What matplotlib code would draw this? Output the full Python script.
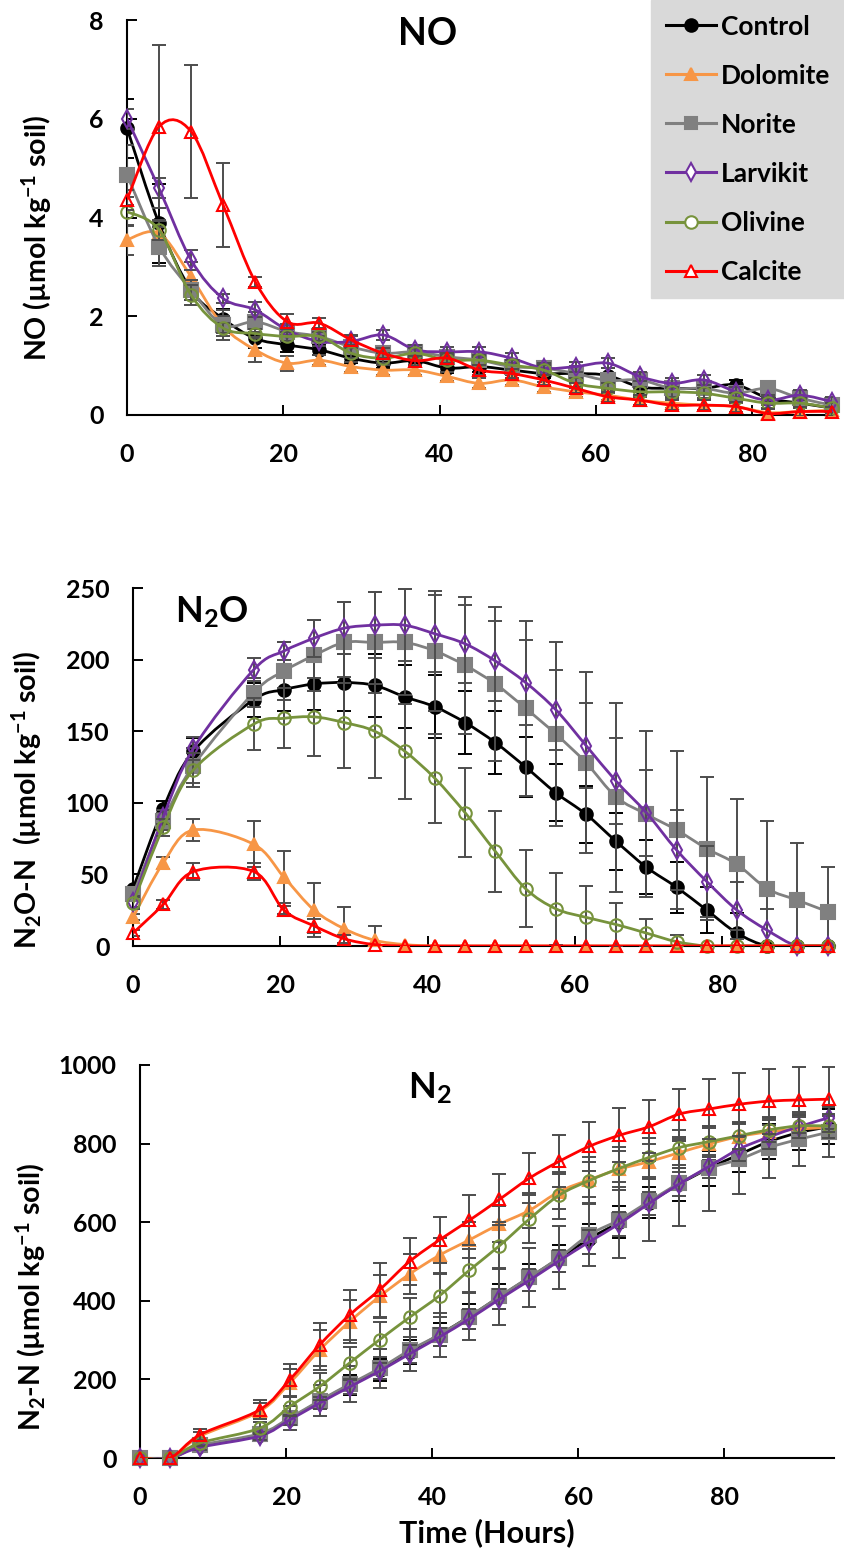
import numpy as np
import matplotlib
matplotlib.use("Agg")
import matplotlib.pyplot as plt
from matplotlib.path import Path
from matplotlib.patches import PathPatch
from matplotlib.lines import Line2D

plt.rcParams['font.family'] = ['Lato', 'DejaVu Sans']
plt.rcParams['font.weight'] = 'bold'
plt.rcParams['mathtext.fontset'] = 'custom'
plt.rcParams['mathtext.rm'] = 'Lato:bold'
plt.rcParams['mathtext.it'] = 'Lato:bold'
plt.rcParams['mathtext.bf'] = 'Lato:bold'

SERIES = ["Control", "Dolomite", "Norite", "Larvikit", "Olivine", "Calcite"]
COLORS = ["#000000", "#f79646", "#808080", "#7030a0", "#77933c", "#ff0000"]
MARKERS = ["o", "^", "s", "d", "o", "^"]
FILLED = [True, True, True, False, False, False]

# sampling times (hours); N2O and N2 have no 12 h sample
TIME_NO = [0, 4.1, 8.2, 12.3, 16.4, 20.5, 24.6, 28.7, 32.8, 36.9, 41.0, 45.1,
           49.2, 53.3, 57.4, 61.5, 65.6, 69.7, 73.8, 77.9, 82.0, 86.1, 90.2]
TIME_N = [0, 4.1, 8.2, 16.4, 20.5, 24.6, 28.7, 32.8, 36.9, 41.0, 45.1, 49.2,
          53.3, 57.4, 61.5, 65.6, 69.7, 73.8, 77.9, 82.0, 86.1, 90.2, 94.3]

# ---- NO (umol kg-1 soil)
NO_CONTROL = [5.81, 3.88, 2.53, 1.95, 1.55, 1.42, 1.32, 1.15, 1.05, 1.10, 0.95, 0.98,
              0.91, 0.84, 0.84, 0.80, 0.57, 0.54, 0.54, 0.61, 0.34, 0.24, 0.14]
NO_DOLOMITE = [3.55, 3.68, 2.80, 1.80, 1.32, 1.05, 1.11, 0.98, 0.91, 0.91, 0.78, 0.64,
               0.71, 0.57, 0.47, 0.40, 0.30, 0.24, 0.20, 0.17, 0.05, 0.07, 0.10]
NO_NORITE = [4.86, 3.41, 2.53, 1.82, 1.89, 1.69, 1.59, 1.38, 1.25, 1.28, 1.18, 1.11,
             0.98, 0.95, 0.84, 0.70, 0.71, 0.54, 0.54, 0.44, 0.54, 0.34, 0.20]
NO_LARVIKIT = [6.00, 4.59, 3.14, 2.36, 2.13, 1.72, 1.49, 1.49, 1.62, 1.32, 1.28, 1.28,
               1.15, 0.95, 0.98, 1.05, 0.78, 0.64, 0.71, 0.47, 0.30, 0.40, 0.27]
NO_OLIVINE = [4.12, 3.75, 2.43, 1.76, 1.65, 1.59, 1.59, 1.25, 1.15, 1.25, 1.11, 1.11,
              1.01, 0.91, 0.64, 0.54, 0.47, 0.47, 0.44, 0.34, 0.24, 0.24, 0.14]
NO_CALCITE = [4.36, 5.84, 5.74, 4.25, 2.70, 1.89, 1.86, 1.52, 1.25, 1.10, 1.15, 0.91,
              0.84, 0.71, 0.54, 0.37, 0.30, 0.20, 0.20, 0.17, 0.03, 0.07, 0.07]

NO_ERR_CONTROL = [0.6, 0.8, 0.2, 0.2, 0.2, 0.15, 0.1, 0.1, 0.1, 0.1, 0.1, 0.1,
                  0.1, 0.1, 0.1, 0.15, 0.1, 0.1, 0.1, 0.1, 0.1, 0.1, 0.1]
NO_ERR_DOLOMITE = [0.3, 0.25, 0.3, 0.2, 0.25, 0.15, 0.1, 0.1, 0.1, 0.1, 0.1, 0.1,
                   0.1, 0.1, 0.1, 0.1, 0.1, 0.1, 0.1, 0.1, 0.1, 0.1, 0.1]
NO_ERR_NORITE = [0.6, 0.4, 0.2, 0.3, 0.2, 0.15, 0.1, 0.1, 0.1, 0.1, 0.1, 0.1,
                 0.1, 0.1, 0.15, 0.15, 0.1, 0.1, 0.1, 0.1, 0.15, 0.1, 0.1]
NO_ERR_LARVIKIT = [0.2, 0.2, 0.2, 0.1, 0.15, 0.1, 0.1, 0.1, 0.1, 0.1, 0.1, 0.1,
                   0.1, 0.1, 0.1, 0.1, 0.1, 0.1, 0.1, 0.1, 0.1, 0.1, 0.1]
NO_ERR_OLIVINE = [0.3, 0.2, 0.2, 0.1, 0.1, 0.1, 0.1, 0.1, 0.1, 0.1, 0.1, 0.1,
                  0.1, 0.1, 0.1, 0.1, 0.1, 0.1, 0.1, 0.1, 0.1, 0.1, 0.1]
NO_ERR_CALCITE = [0.2, 1.65, 1.35, 0.85, 0.1, 0.15, 0.1, 0.1, 0.1, 0.1, 0.1, 0.1,
                  0.1, 0.1, 0.1, 0.1, 0.1, 0.1, 0.1, 0.1, 0.1, 0.1, 0.1]

# ---- N2O-N (umol kg-1 soil)
N2O_CONTROL = [40, 96, 136, 172, 179, 183, 184, 182, 174, 167, 156, 142,
               125, 107, 92, 73, 55, 41, 25, 9, 0, 0, 0]
N2O_DOLOMITE = [20, 58, 81, 71, 48, 25, 12, 4, 1, 0, 0, 0,
                0, 0, 0, 0, 0, 0, 0, 0, 0, 0, 0]
N2O_NORITE = [36, 87, 126, 177, 192, 203, 212, 212, 212, 206, 196, 183,
              166, 148, 128, 104, 92, 81, 68, 57, 40, 32, 24]
N2O_LARVIKIT = [31, 90, 138, 193, 206, 215, 222, 224, 224, 218, 211, 199,
                184, 165, 140, 115, 93, 67, 45, 25, 11, 0, 0]
N2O_OLIVINE = [30, 83, 123, 155, 159, 160, 156, 150, 136, 117, 93, 66,
               40, 26, 20, 15, 9, 3, 0, 0, 0, 0, 0]
N2O_CALCITE = [9, 29, 52, 52, 25, 14, 5, 1, 0, 0, 0, 0,
               0, 0, 0, 0, 0, 0, 0, 0, 0, 0, 0]

N2O_ERR_CONTROL = [4, 5, 9, 12, 15, 18, 20, 22, 22, 22, 22, 22,
                   21, 20, 20, 20, 19, 18, 16, 14, 0, 0, 0]
N2O_ERR_DOLOMITE = [2, 4, 8, 16, 18, 19, 15, 10, 0, 0, 0, 0,
                    0, 0, 0, 0, 0, 0, 0, 0, 0, 0, 0]
N2O_ERR_NORITE = [4, 6, 12, 10, 20, 25, 28, 35, 37, 42, 48, 54,
                  61, 64, 63, 66, 58, 55, 50, 46, 47, 40, 31]
N2O_ERR_LARVIKIT = [4, 5, 8, 8, 6, 13, 18, 23, 25, 27, 27, 28,
                    30, 28, 30, 30, 30, 28, 25, 20, 15, 0, 0]
N2O_ERR_OLIVINE = [4, 6, 12, 18, 21, 27, 32, 33, 33, 31, 31, 28,
                   27, 25, 22, 15, 10, 5, 0, 0, 0, 0, 0]
N2O_ERR_CALCITE = [2, 3, 6, 6, 3, 5, 3, 0, 0, 0, 0, 0,
                   0, 0, 0, 0, 0, 0, 0, 0, 0, 0, 0]

# ---- N2-N (umol kg-1 soil)
N2_CONTROL = [0, 0, 30, 59, 100, 144, 186, 225, 270, 314, 360, 410,
              459, 508, 558, 600, 650, 697, 737, 772, 805, 828, 843]
N2_DOLOMITE = [0, 0, 55, 119, 191, 275, 347, 411, 468, 516, 555, 595,
               630, 678, 708, 735, 754, 777, 799, 818, 830, 837, 841]
N2_NORITE = [0, 0, 32, 62, 102, 146, 188, 228, 274, 314, 360, 411,
             460, 510, 568, 606, 653, 699, 737, 760, 790, 811, 829]
N2_LARVIKIT = [0, 0, 27, 56, 97, 140, 181, 221, 265, 308, 354, 404,
               452, 502, 550, 596, 648, 697, 742, 786, 817, 843, 866]
N2_OLIVINE = [0, 0, 38, 76, 131, 182, 242, 301, 358, 413, 478, 540,
              608, 669, 706, 737, 765, 790, 805, 820, 835, 845, 845]
N2_CALCITE = [0, 0, 59, 123, 199, 288, 364, 428, 500, 555, 605, 658,
              712, 755, 793, 821, 843, 875, 888, 900, 908, 911, 913]

N2_ERR_CONTROL = [0, 0, 8, 12, 15, 20, 25, 28, 30, 30, 32, 32,
                  35, 35, 38, 40, 40, 42, 45, 45, 45, 45, 45]
N2_ERR_DOLOMITE = [0, 0, 10, 20, 35, 50, 55, 55, 50, 45, 45, 45,
                   45, 45, 45, 45, 45, 40, 40, 35, 30, 30, 30]
N2_ERR_NORITE = [0, 0, 10, 15, 30, 40, 45, 50, 53, 56, 61, 72,
                 75, 81, 80, 97, 102, 108, 109, 89, 77, 69, 63]
N2_ERR_LARVIKIT = [0, 0, 6, 10, 12, 15, 18, 20, 22, 22, 25, 25,
                   28, 28, 30, 30, 30, 30, 30, 30, 30, 30, 30]
N2_ERR_OLIVINE = [0, 0, 8, 15, 25, 35, 40, 45, 50, 55, 55, 60,
                  60, 60, 60, 55, 50, 45, 40, 35, 30, 30, 30]
N2_ERR_CALCITE = [0, 0, 15, 25, 40, 55, 63, 68, 60, 58, 64, 64,
                  64, 66, 63, 69, 68, 64, 76, 80, 83, 83, 83]


def smooth_path(x, y):
    """Excel-like smoothed line: Catmull-Rom segments as cubic Beziers."""
    x = np.asarray(x, float)
    y = np.asarray(y, float)
    n = len(x)
    verts = [(x[0], y[0])]
    codes = [Path.MOVETO]
    for i in range(n - 1):
        a = i - 1 if i > 0 else i
        b = i + 2 if i + 2 < n else i + 1
        c1 = (x[i] + (x[i + 1] - x[a]) / 6, y[i] + (y[i + 1] - y[a]) / 6)
        c2 = (x[i + 1] - (x[b] - x[i]) / 6, y[i + 1] - (y[b] - y[i]) / 6)
        verts += [c1, c2, (x[i + 1], y[i + 1])]
        codes += [Path.CURVE4] * 3
    return Path(verts, codes)


def draw_panel(ax, t, data, errs, xmax, ymax, yticks):
    for k in range(len(SERIES)):
        y = np.asarray(data[k], float)
        e = np.asarray(errs[k], float)
        tt = np.asarray(t, float)
        keep = e > 0
        ecol = "#000000" if k == 0 else "#4d4d4d"
        ax.errorbar(tt[keep], y[keep], yerr=e[keep], fmt="none", ecolor=ecol,
                    elinewidth=1.4, capsize=5, capthick=1.4, zorder=3 + k * 0.1)
        ax.add_patch(PathPatch(smooth_path(tt, y), fill=False, edgecolor=COLORS[k],
                               lw=2.0, zorder=3.02 + k * 0.1))
        ax.plot(tt, y, linestyle="none", marker=MARKERS[k],
                markersize=9.5 if MARKERS[k] == "s" else 9,
                markerfacecolor=COLORS[k] if FILLED[k] else "none",
                markeredgecolor=COLORS[k], markeredgewidth=1.5,
                clip_on=False, zorder=3.05 + k * 0.1)
    ax.set_xlim(0, xmax)
    ax.set_ylim(0, ymax)
    ax.set_xticks([0, 20, 40, 60, 80])
    ax.set_yticks(yticks)
    for s in ["top", "right"]:
        ax.spines[s].set_visible(False)
    for s in ["left", "bottom"]:
        ax.spines[s].set_linewidth(1.5)
    ax.tick_params(direction="in", length=7, width=1.4, labelsize=18)
    ax.tick_params(axis="x", pad=20)
    ax.tick_params(axis="y", pad=17)
    for lab in ax.get_xticklabels() + ax.get_yticklabels():
        lab.set_fontweight("bold")


W, H = 845, 1564
fig = plt.figure(figsize=(W / 100, H / 100), dpi=100)


def axes_px(left, right, top, bottom):
    return fig.add_axes([left / W, 1 - bottom / H, (right - left) / W, (bottom - top) / H])


ax1 = axes_px(127, 832, 20, 415)
draw_panel(ax1, TIME_NO,
           [NO_CONTROL, NO_DOLOMITE, NO_NORITE, NO_LARVIKIT, NO_OLIVINE, NO_CALCITE],
           [NO_ERR_CONTROL, NO_ERR_DOLOMITE, NO_ERR_NORITE, NO_ERR_LARVIKIT,
            NO_ERR_OLIVINE, NO_ERR_CALCITE],
           90.2, 8, [0, 2, 4, 6, 8])

ax2 = axes_px(133, 835, 588, 946)
draw_panel(ax2, TIME_N,
           [N2O_CONTROL, N2O_DOLOMITE, N2O_NORITE, N2O_LARVIKIT, N2O_OLIVINE, N2O_CALCITE],
           [N2O_ERR_CONTROL, N2O_ERR_DOLOMITE, N2O_ERR_NORITE, N2O_ERR_LARVIKIT,
            N2O_ERR_OLIVINE, N2O_ERR_CALCITE],
           95.3, 250, [0, 50, 100, 150, 200, 250])

ax3 = axes_px(140, 834, 1065, 1458)
draw_panel(ax3, TIME_N,
           [N2_CONTROL, N2_DOLOMITE, N2_NORITE, N2_LARVIKIT, N2_OLIVINE, N2_CALCITE],
           [N2_ERR_CONTROL, N2_ERR_DOLOMITE, N2_ERR_NORITE, N2_ERR_LARVIKIT,
            N2_ERR_OLIVINE, N2_ERR_CALCITE],
           95, 1000, [0, 200, 400, 600, 800, 1000])
ax3.set_xlabel("Time (Hours)", fontsize=22, fontweight="bold", labelpad=7)

# panel titles
fig.text(398 / W, 1 - 45 / H, "NO", fontsize=27, fontweight="bold", va="baseline")
fig.text(175 / W, 1 - 622 / H, "N$_2$O", fontsize=26, fontweight="bold", va="baseline")
fig.text(408 / W, 1 - 1098 / H, "N$_2$", fontsize=26, fontweight="bold", va="baseline")

# y labels
fig.text(37 / W, 1 - 238 / H, "NO (µmol kg$^{-1}$ soil)", rotation=90,
         fontsize=20.5, fontweight="bold", ha="center", va="center")
fig.text(27 / W, 1 - 800 / H, "N$_2$O-N  (µmol kg$^{-1}$ soil)", rotation=90,
         fontsize=20.5, fontweight="bold", ha="center", va="center")
fig.text(31 / W, 1 - 1297 / H, "N$_2$-N (µmol kg$^{-1}$ soil)", rotation=90,
         fontsize=20.5, fontweight="bold", ha="center", va="center")

handles = [Line2D([], [], color=COLORS[k], lw=2.2, marker=MARKERS[k], markersize=9,
                  markerfacecolor=COLORS[k] if FILLED[k] else "white",
                  markeredgecolor=COLORS[k], markeredgewidth=1.5)
           for k in range(len(SERIES))]
leg = fig.legend(handles, SERIES, loc="upper right", bbox_to_anchor=(1, 1),
                 frameon=True, fancybox=False, facecolor="#d9d9d9", edgecolor="#d9d9d9",
                 framealpha=1, fontsize=19, handlelength=1.9, handletextpad=0.2,
                 labelspacing=0.95, borderpad=0.55, borderaxespad=0)
for txt in leg.get_texts():
    txt.set_fontweight("bold")

fig.savefig("out.png", dpi=100)
